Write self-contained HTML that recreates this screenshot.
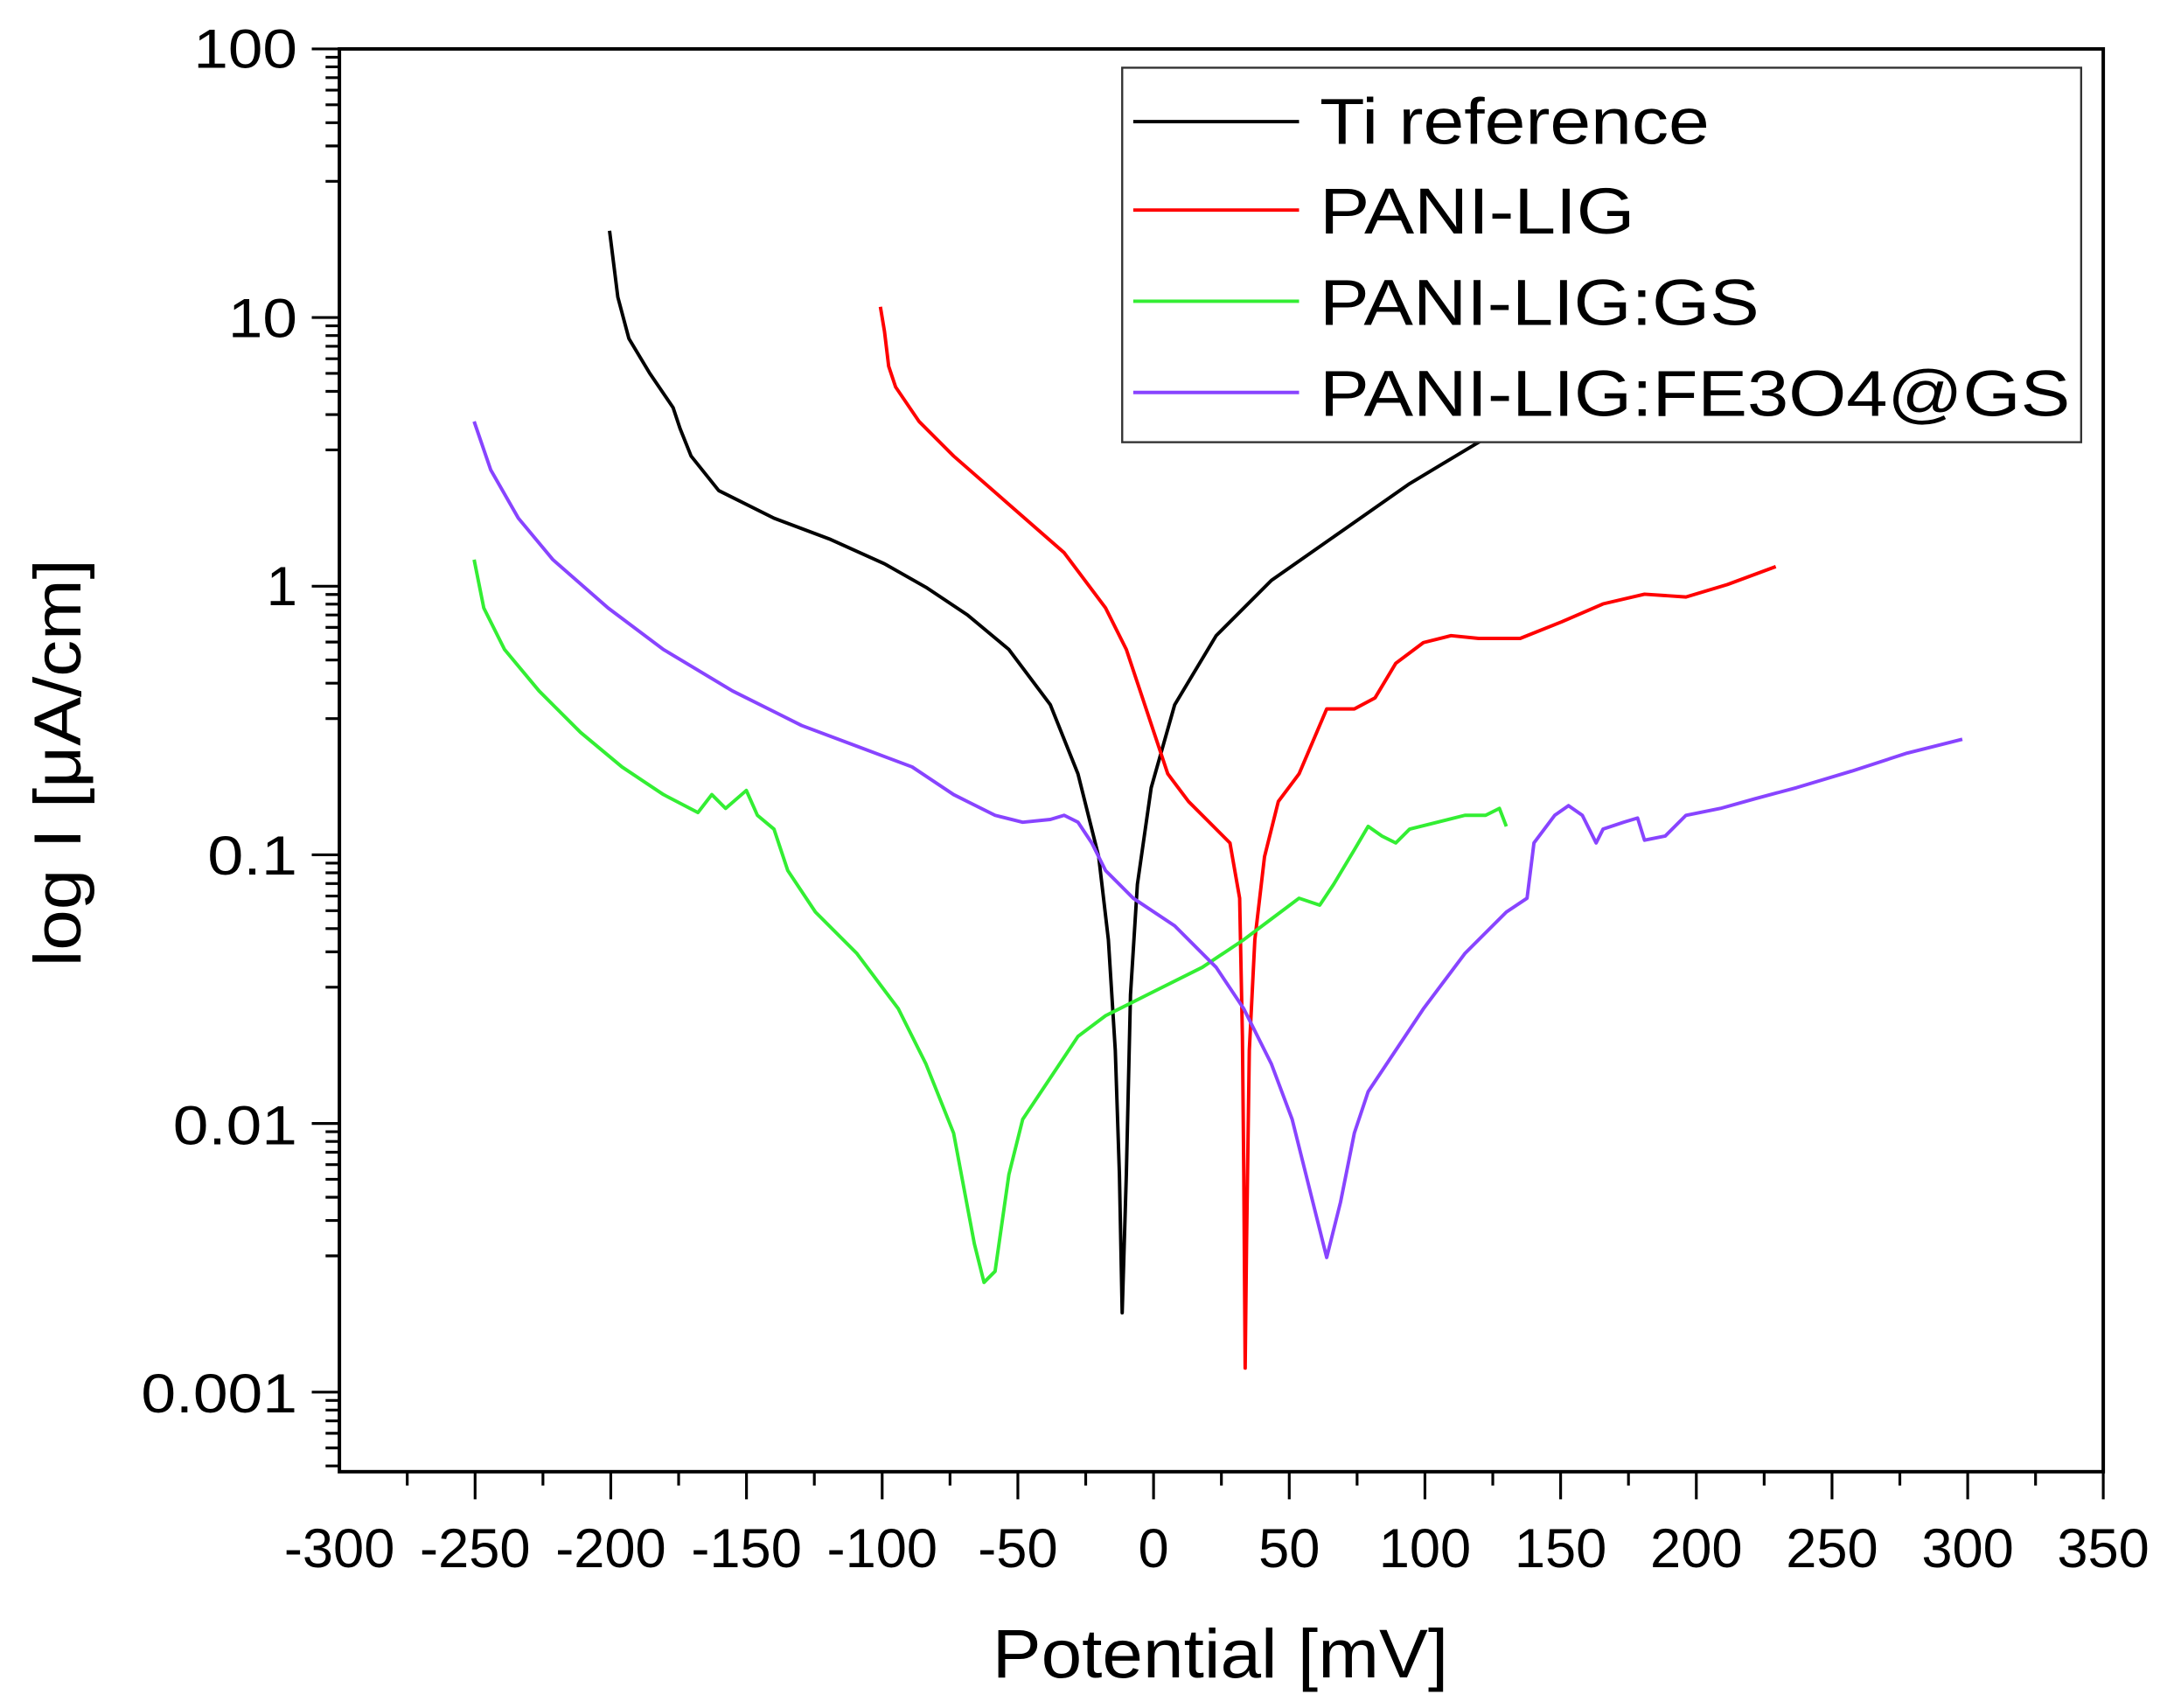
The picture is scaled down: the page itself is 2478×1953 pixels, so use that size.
<!DOCTYPE html>
<html><head><meta charset="utf-8"><style>html,body{margin:0;padding:0;background:#fff}svg{display:block}</style></head>
<body>
<svg width="2478" height="1953" viewBox="0 0 1568 1236" xmlns="http://www.w3.org/2000/svg" font-family="Liberation Sans, Arial, sans-serif">
<rect width="1568" height="1236" fill="#fff"/>
<g fill="none" stroke-width="2.5" stroke-linejoin="round">
<polyline stroke="#000" points="441,167 447,215 455,245 470,270 487,295 492,310 500,330 520,355 560,375 600,390 640,408 670,425 700,445 730,470 760,510 780,560 795,620 802,680 807,760 810,850 812,950 815,850 818,720 823,640 833,570 850,510 880,460 920,420 970,385 1020,350 1070,320 1095,306"/>
<polyline stroke="#ff0000" points="637,222 640,240 643,265 648,280 665,305 690,330 730,365 770,400 800,440 815,470 825,500 835,530 845,560 860,580 875,595 890,610 897,650 899,750 900,850 901,990 902,900 904,760 908,680 915,620 925,580 940,560 960,513 980,513 995,505 1010,480 1030,465 1050,460 1070,462 1100,462 1130,450 1160,437 1190,430 1220,432 1250,423 1285,410"/>
<polyline stroke="#33ee33" points="343,405 350,440 365,470 390,500 420,530 450,555 480,575 505,588 515,575 525,585 540,572 548,590 560,600 570,630 590,660 620,690 650,730 670,770 690,820 705,900 712,928 720,920 730,850 740,810 760,780 780,750 800,735 830,720 870,700 900,680 920,665 940,650 955,655 965,640 980,615 990,598 1000,605 1010,610 1020,600 1040,595 1060,590 1075,590 1085,585 1090,598"/>
<polyline stroke="#8844ff" points="343,305 355,340 375,375 400,405 440,440 480,470 530,500 580,525 620,540 660,555 690,575 700,580 720,590 740,595 760,593 770,590 780,595 790,610 800,630 820,650 850,670 880,700 900,730 920,770 935,810 945,850 955,890 960,910 970,870 980,820 990,790 1010,760 1030,730 1060,690 1090,660 1105,650 1110,610 1125,590 1135,583 1145,590 1155,610 1160,600 1175,595 1185,592 1190,608 1205,605 1220,590 1245,585 1270,578 1300,570 1340,558 1380,545 1420,535"/>
</g>
<!-- legend -->
<rect x="812" y="49" width="694" height="271" fill="#fff" stroke="#333" stroke-width="1.5"/>
<g stroke-width="2.5">
<line x1="820" y1="88" x2="940" y2="88" stroke="#000"/>
<line x1="820" y1="152" x2="940" y2="152" stroke="#ff0000"/>
<line x1="820" y1="218" x2="940" y2="218" stroke="#33ee33"/>
<line x1="820" y1="284" x2="940" y2="284" stroke="#8844ff"/>
</g>
<g font-size="47" fill="#000">
<text x="955" y="104" textLength="282" lengthAdjust="spacingAndGlyphs">Ti reference</text>
<text x="955" y="169" textLength="228" lengthAdjust="spacingAndGlyphs">PANI-LIG</text>
<text x="955" y="235" textLength="318" lengthAdjust="spacingAndGlyphs">PANI-LIG:GS</text>
<text x="955" y="301" textLength="543" lengthAdjust="spacingAndGlyphs">PANI-LIG:FE3O4@GS</text>
</g>
<!-- axes -->
<rect x="245.5" y="35.4" width="1276.5" height="1029.6" fill="none" stroke="#000" stroke-width="2.5"/>
<g stroke="#000" stroke-width="2">
<path d="M245.5,35.4h-20M245.5,229.8h-20M245.5,424.2h-20M245.5,618.6h-20M245.5,813h-20M245.5,1007.4h-20"/>
<path d="M245.5,1007.4v20M343.7,1065v20M441.9,1065v20M540.1,1065v20M638.3,1065v20M736.5,1065v20M834.7,1065v20M932.9,1065v20M1031.1,1065v20M1129.3,1065v20M1227.5,1065v20M1325.7,1065v20M1423.9,1065v20M1522,1065v20"/>
<path d="M294.6,1065v10M392.8,1065v10M491,1065v10M589.2,1065v10M687.4,1065v10M785.6,1065v10M883.8,1065v10M982,1065v10M1080.2,1065v10M1178.4,1065v10M1276.6,1065v10M1374.8,1065v10M1473,1065v10"/>
<path d="M245.5,41.4h-10M245.5,48.4h-10M245.5,56.2h-10M245.5,65.2h-10M245.5,75.8h-10M245.5,88.8h-10M245.5,105.6h-10M245.5,131.2h-10
M245.5,235.8h-10M245.5,242.8h-10M245.5,250.6h-10M245.5,259.6h-10M245.5,270.2h-10M245.5,283.2h-10M245.5,300h-10M245.5,325.6h-10
M245.5,430.2h-10M245.5,437.2h-10M245.5,445h-10M245.5,454h-10M245.5,464.6h-10M245.5,477.6h-10M245.5,494.4h-10M245.5,520h-10
M245.5,624.6h-10M245.5,631.6h-10M245.5,639.4h-10M245.5,648.4h-10M245.5,659h-10M245.5,672h-10M245.5,688.8h-10M245.5,714.4h-10
M245.5,819h-10M245.5,826h-10M245.5,833.8h-10M245.5,842.8h-10M245.5,853.4h-10M245.5,866.4h-10M245.5,883.2h-10M245.5,908.8h-10
M245.5,1013.4h-10M245.5,1020.4h-10M245.5,1028.2h-10M245.5,1037.2h-10M245.5,1047.8h-10M245.5,1060.8h-10"/>
</g>
<g font-size="40" fill="#000" text-anchor="end">
<text x="215" y="49" textLength="75" lengthAdjust="spacingAndGlyphs">100</text>
<text x="215" y="244" textLength="50" lengthAdjust="spacingAndGlyphs">10</text>
<text x="215" y="438">1</text>
<text x="215" y="633" textLength="65" lengthAdjust="spacingAndGlyphs">0.1</text>
<text x="215" y="828" textLength="90" lengthAdjust="spacingAndGlyphs">0.01</text>
<text x="215" y="1022" textLength="113" lengthAdjust="spacingAndGlyphs">0.001</text>
</g>
<g font-size="40" fill="#000" text-anchor="middle">
<text x="245.5" y="1134">-300</text><text x="343.7" y="1134">-250</text><text x="441.9" y="1134">-200</text><text x="540.1" y="1134">-150</text><text x="638.3" y="1134">-100</text><text x="736.5" y="1134">-50</text><text x="834.7" y="1134">0</text><text x="932.9" y="1134">50</text><text x="1031.1" y="1134">100</text><text x="1129.3" y="1134">150</text><text x="1227.5" y="1134">200</text><text x="1325.7" y="1134">250</text><text x="1423.9" y="1134">300</text><text x="1522" y="1134">350</text>
</g>
<text x="883" y="1214" font-size="50" text-anchor="middle" textLength="330" lengthAdjust="spacingAndGlyphs">Potential [mV]</text>
<text transform="translate(58,552) rotate(-90)" font-size="48" text-anchor="middle" textLength="295" lengthAdjust="spacingAndGlyphs">log I [μA/cm]</text>
</svg>
</body></html>
